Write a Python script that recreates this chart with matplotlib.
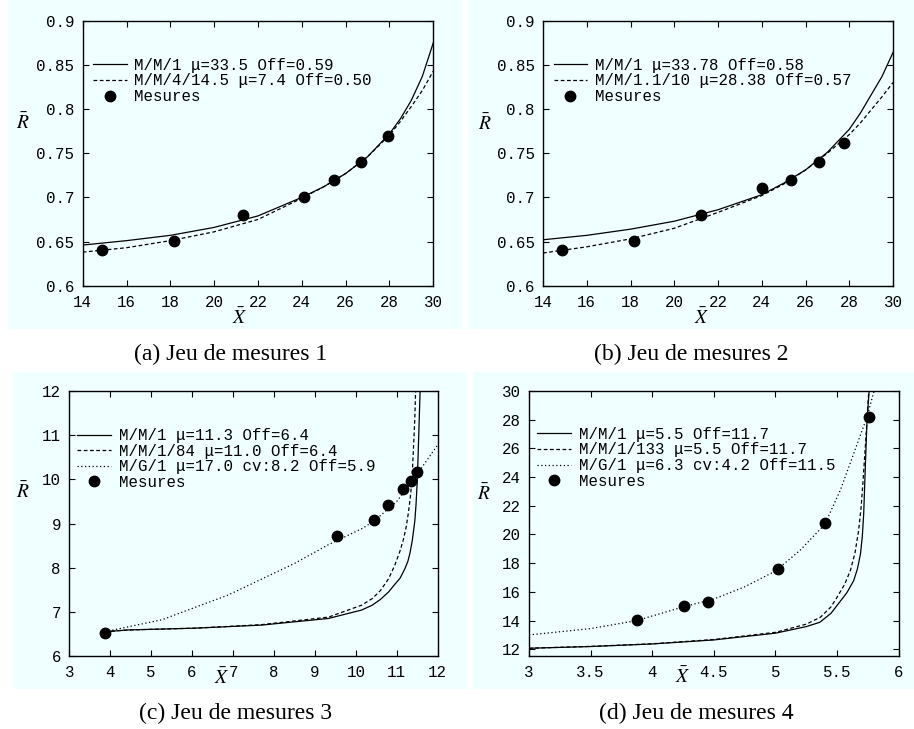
import matplotlib.pyplot as plt
from matplotlib.patches import Rectangle

# measured points (x = mean throughput, r = mean response)
mes1_x = [14.87, 18.18, 21.30, 24.11, 25.47, 26.70, 27.95]
mes1_r = [0.640, 0.651, 0.680, 0.700, 0.720, 0.740, 0.770]
mes2_x = [14.85, 18.14, 21.22, 24.01, 25.34, 26.63, 27.78]
mes2_r = [0.640, 0.651, 0.680, 0.711, 0.720, 0.740, 0.761]
mes3_x = [3.87, 9.53, 10.44, 10.78, 11.16, 11.35, 11.49]
mes3_r = [6.51, 8.72, 9.07, 9.41, 9.77, 9.96, 10.17]
mes4_x = [3.875, 4.254, 4.449, 5.020, 5.399, 5.757]
mes4_r = [14.05, 15.03, 15.31, 17.59, 20.80, 28.21]

# model curves
c1_x = [14, 16, 18, 20, 22, 24, 25, 26, 27, 28, 28.5, 29, 29.5, 30]
c1_mm1 = [0.646, 0.651, 0.657, 0.666, 0.679, 0.700, 0.712, 0.727, 0.746, 0.772, 0.789, 0.810, 0.837, 0.875]
c1_mm4 = [0.638, 0.643, 0.651, 0.661, 0.675, 0.699, 0.712, 0.727, 0.746, 0.7705, 0.786, 0.803, 0.821, 0.843]

c2_x = [14, 16, 18, 20, 22, 24, 25, 26, 27, 28, 28.5, 29, 29.5, 30]
c2_mm1 = [0.652, 0.657, 0.664, 0.673, 0.686, 0.703, 0.716, 0.731, 0.751, 0.777, 0.795, 0.816, 0.837, 0.864]
c2_mm11 = [0.637, 0.644, 0.653, 0.665, 0.683, 0.702, 0.715, 0.731, 0.750, 0.771, 0.784, 0.799, 0.814, 0.830]

c3_mm1_x = [3.87, 4.44, 6.07, 7.70, 9.33, 10.14, 10.4, 10.6, 10.8, 10.95, 11.08, 11.2, 11.27, 11.32, 11.38,
            11.44, 11.47, 11.5, 11.52, 11.54, 11.57]
c3_mm1_r = [6.55, 6.59, 6.63, 6.70, 6.85, 7.04, 7.15, 7.28, 7.45, 7.62, 7.76, 7.98, 8.14, 8.32, 8.62,
            9.05, 9.42, 9.95, 10.5, 11.1, 12.0]
c3_mm184_x = [3.87, 4.44, 6.07, 7.70, 9.33, 10.14, 10.4, 10.6, 10.8, 10.95, 11.08, 11.16, 11.23, 11.28,
              11.33, 11.37, 11.41, 11.44, 11.46]
c3_mm184_r = [6.55, 6.59, 6.63, 6.71, 6.88, 7.15, 7.3, 7.48, 7.75, 8.05, 8.38, 8.63, 8.92, 9.22,
              9.58, 9.98, 10.74, 11.35, 12.0]
c3_mg1_x = [3.87, 5.26, 6.88, 8.51, 9.33, 10.14, 10.44, 11.0, 11.5, 12.0]
c3_mg1_r = [6.55, 6.82, 7.38, 8.10, 8.52, 8.88, 9.05, 9.5, 10.12, 10.78]

c4_mm1_x = [3, 3.5, 4, 4.5, 5, 5.25, 5.36, 5.45, 5.53, 5.58, 5.635, 5.665, 5.69, 5.705, 5.716, 5.73,
            5.743, 5.76]
c4_mm1_r = [12.07, 12.19, 12.37, 12.65, 13.12, 13.58, 13.88, 14.5, 15.39, 15.95, 16.79, 17.6, 18.65,
            19.9, 21.45, 24.94, 27.97, 30]
c4_mm133_x = [3, 3.5, 4, 4.5, 5, 5.25, 5.364, 5.45, 5.5, 5.56, 5.608, 5.645, 5.675, 5.695, 5.711,
              5.738, 5.757]
c4_mm133_r = [12.07, 12.2, 12.38, 12.68, 13.18, 13.75, 14.23, 14.95, 15.63, 16.5, 17.49, 18.7, 20.29,
              21.9, 23.78, 27.28, 30]
c4_mg1_x = [3, 3.5, 3.875, 4.25, 4.5, 4.75, 5.0, 5.2, 5.4, 5.526, 5.635, 5.743, 5.80]
c4_mg1_r = [13.0, 13.44, 14.0, 14.95, 15.5, 16.35, 17.45, 18.9, 20.7, 23.08, 25.64, 28.2, 30]

ticks_x12 = [14, 16, 18, 20, 22, 24, 26, 28, 30]
ticks_r12 = [0.6, 0.65, 0.7, 0.75, 0.8, 0.85, 0.9]
ticks_x3 = [3, 4, 5, 6, 7, 8, 9, 10, 11, 12]
ticks_r3 = [6, 7, 8, 9, 10, 11, 12]
ticks_x4 = [3, 3.5, 4, 4.5, 5, 5.5, 6]
ticks_r4 = [12, 14, 16, 18, 20, 22, 24, 26, 28, 30]

captions = ["(a) Jeu de mesures 1", "(b) Jeu de mesures 2",
            "(c) Jeu de mesures 3", "(d) Jeu de mesures 4"]

W, H = 914, 729
BG = '#f0ffff'
MONO = 'Liberation Mono'
FS = 11.3

plt.rcParams['mathtext.fontset'] = 'stix'


def px_rect(fig, x0, y0, x1, y1):
    # background box given in pixels from top-left
    fig.patches.append(Rectangle((x0 / W, 1 - y1 / H), (x1 - x0) / W, (y1 - y0) / H,
                                 transform=fig.transFigure, facecolor=BG,
                                 edgecolor='none', zorder=-10))


def px_axes(fig, left, top, right, bottom):
    ax = fig.add_axes([left / W, 1 - bottom / H, (right - left) / W, (bottom - top) / H])
    ax.set_facecolor('none')
    return ax


def style(ax, xt, yt, xlim, ylim, rx, ry, xx, xy):
    ax.set_xlim(xlim)
    ax.set_ylim(ylim)
    ax.set_xticks(xt, [('%g' % v) for v in xt])
    ax.set_yticks(yt, [('%g' % v) for v in yt])
    ax.tick_params(direction='in', top=True, right=True, length=4, width=0.8,
                   labelsize=FS, labelfontfamily=MONO)
    ax.tick_params(axis='x', pad=6.5)
    ax.tick_params(axis='y', pad=6)
    for s in ax.spines.values():
        s.set_linewidth(1.0)
    ax.text(rx, ry, r'$\bar{R}$', transform=ax.transAxes, fontsize=14,
            ha='center', va='center')
    ax.text(xx, xy, r'$\bar{X}$', transform=ax.transAxes, fontsize=14,
            ha='center', va='center')


def legend(ax, x, y):
    ax.legend(loc='upper left', bbox_to_anchor=(x, y), frameon=False,
              prop={'family': MONO, 'size': FS}, handlelength=2.15,
              handletextpad=0.5, labelspacing=0.04, borderpad=0, borderaxespad=0)


def main():
    fig = plt.figure(figsize=(W / 100, H / 100), dpi=100)

    px_rect(fig, 8, 0, 462, 329)
    px_rect(fig, 468, 0, 914, 329)
    px_rect(fig, 13, 372, 467, 689)
    px_rect(fig, 473, 372, 914, 689)

    lw = 0.9
    dash = (0, (3, 2))
    dot = (0, (1, 2))
    ms = 7.5

    # (a)
    ax = px_axes(fig, 82.7, 20.7, 433.3, 285.7)
    ax.plot(c1_x, c1_mm1, 'k-', lw=lw, label='M/M/1 μ=33.5 Off=0.59')
    ax.plot(c1_x, c1_mm4, color='k', ls=dash, lw=lw, label='M/M/4/14.5 μ=7.4 Off=0.50')
    ax.plot(mes1_x, mes1_r, 'ko', ms=ms, ls='none', label='Mesures')
    style(ax, ticks_x12, ticks_r12, (14, 30), (0.6, 0.9), -0.17, 0.614, 0.449, -0.122)
    legend(ax, 0.029, 0.86)

    # (b)
    ax = px_axes(fig, 543, 20.7, 893, 285.7)
    ax.plot(c2_x, c2_mm1, 'k-', lw=lw, label='M/M/1 μ=33.78 Off=0.58')
    ax.plot(c2_x, c2_mm11, color='k', ls=dash, lw=lw, label='M/M/1.1/10 μ=28.38 Off=0.57')
    ax.plot(mes2_x, mes2_r, 'ko', ms=ms, ls='none', label='Mesures')
    style(ax, ticks_x12, ticks_r12, (14, 30), (0.6, 0.9), -0.165, 0.61, 0.452, -0.122)
    legend(ax, 0.030, 0.86)

    # (c)
    ax = px_axes(fig, 69.3, 391, 437.7, 656)
    ax.plot(c3_mm1_x, c3_mm1_r, 'k-', lw=lw, label='M/M/1 μ=11.3 Off=6.4')
    ax.plot(c3_mm184_x, c3_mm184_r, color='k', ls=dash, lw=lw, label='M/M/1/84 μ=11.0 Off=6.4')
    ax.plot(c3_mg1_x, c3_mg1_r, color='k', ls=dot, lw=lw, label='M/G/1 μ=17.0 cv:8.2 Off=5.9')
    ax.plot(mes3_x, mes3_r, 'ko', ms=ms, ls='none', label='Mesures')
    style(ax, ticks_x3, ticks_r3, (3, 12), (6, 12), -0.125, 0.62, 0.414, -0.083)
    legend(ax, 0.022, 0.86)

    # (d)
    ax = px_axes(fig, 529, 391, 898.7, 656)
    ax.plot(c4_mm1_x, c4_mm1_r, 'k-', lw=lw, label='M/M/1 μ=5.5 Off=11.7')
    ax.plot(c4_mm133_x, c4_mm133_r, color='k', ls=dash, lw=lw, label='M/M/1/133 μ=5.5 Off=11.7')
    ax.plot(c4_mg1_x, c4_mg1_r, color='k', ls=dot, lw=lw, label='M/G/1 μ=6.3 cv:4.2 Off=11.5')
    ax.plot(mes4_x, mes4_r, 'ko', ms=ms, ls='none', label='Mesures')
    style(ax, ticks_x4, ticks_r4, (3, 6), (11.53, 30), -0.1225, 0.614, 0.416, -0.078)
    legend(ax, 0.022, 0.865)

    # captions under each panel
    cap_pos = [(230.5, 354), (691, 354), (235.7, 713), (696, 713)]
    for (cx, cy), txt in zip(cap_pos, captions):
        fig.text(cx / W, 1 - cy / H, txt, family='Liberation Serif', fontsize=17,
                 ha='center', va='center')

    fig.savefig('out.png', dpi=100, facecolor='white')


if __name__ == '__main__':
    main()
